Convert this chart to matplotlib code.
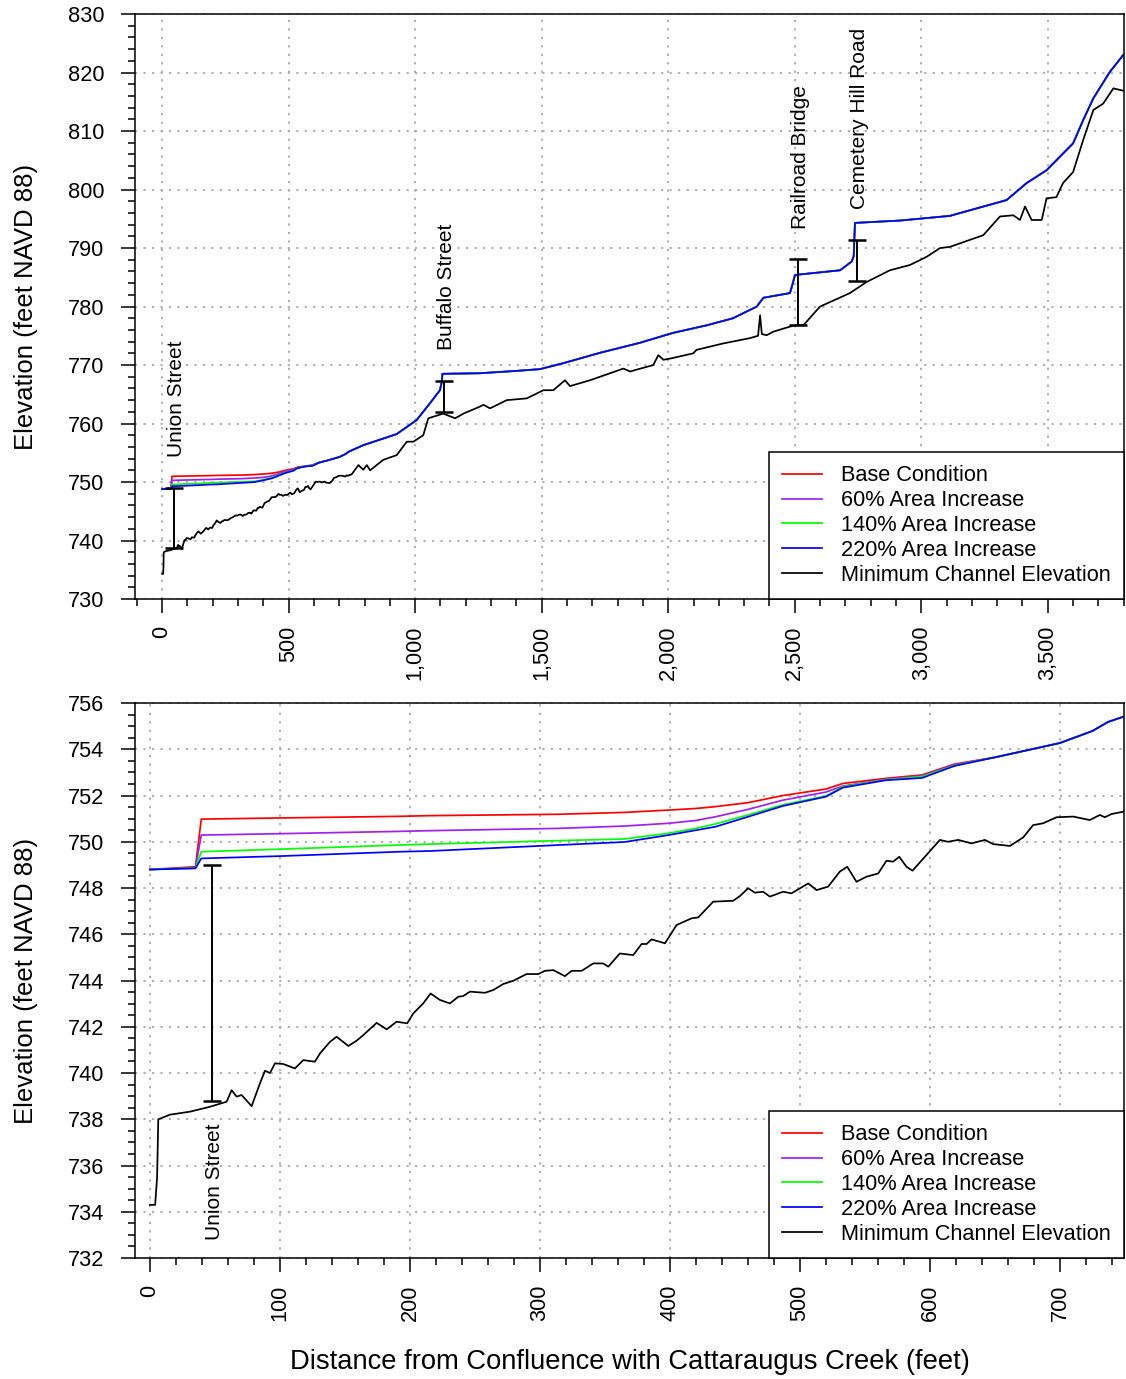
import matplotlib
matplotlib.use("Agg")
import matplotlib.pyplot as plt
from matplotlib.ticker import MultipleLocator, FuncFormatter

plt.rcParams['font.family'] = ['Liberation Sans', 'DejaVu Sans']

# water surface profiles, downstream part where the scenarios differ (feet)
ws_down_x = [0, 35, 39.5, 100, 192, 215, 315, 365, 399, 420, 435, 460, 487, 520, 533, 566, 594, 619]
base_down = [748.80, 748.92, 750.98, 751.03, 751.10, 751.13, 751.19, 751.27, 751.37, 751.44, 751.52,
             751.69, 752.00, 752.28, 752.52, 752.74, 752.89, 753.36]
p60_down = [748.80, 748.88, 750.29, 750.35, 750.45, 750.48, 750.58, 750.68, 750.80, 750.92, 751.08,
            751.40, 751.80, 752.15, 752.41, 752.70, 752.85, 753.33]
p140_down = [748.80, 748.86, 749.57, 749.68, 749.86, 749.90, 750.05, 750.12, 750.37, 750.58, 750.77,
             751.16, 751.60, 751.98, 752.38, 752.68, 752.82, 753.30]
p220_down = [748.80, 748.85, 749.28, 749.38, 749.57, 749.60, 749.86, 749.99, 750.29, 750.50, 750.65,
             751.08, 751.55, 751.95, 752.34, 752.66, 752.76, 753.28]

# upstream part, all scenarios coincide
ws_up_x = [650, 700, 725, 737, 749, 795, 927, 1006, 1059, 1098, 1105, 1108, 1256, 1400, 1493, 1584,
           1731, 1888, 2019, 2153, 2256, 2350, 2376, 2481, 2488, 2501, 2679, 2725, 2733, 2738, 2916,
           3113, 3179, 3337, 3416, 3495, 3600, 3640, 3680, 3745, 3798]
ws_up = [753.65, 754.27, 754.79, 755.18, 755.41, 756.3, 758.2, 760.6, 763.5, 765.7, 767.1, 768.5,
         768.6, 769.0, 769.3, 770.3, 772.1, 773.8, 775.5, 776.8, 778.0, 780.0, 781.5, 782.3, 783.3,
         785.4, 786.2, 787.7, 788.6, 794.3, 794.7, 795.5, 796.3, 798.2, 801.1, 803.3, 807.9, 811.9,
         815.6, 820.1, 823.0]

# minimum channel elevation
chan_x = [0, 4, 5.5, 6.4, 15.4, 30.8, 46, 59, 62.8, 66.7, 70.5, 78.2, 84.6, 88.5, 92.3, 96.2, 102.6,
          111.5, 118, 126.9, 130.8, 138.5, 143.6, 152.6, 159, 164.1, 174.4, 182.1, 189.7, 197.9, 202.6,
          210.2, 215.9, 223.1, 230.8, 237.2, 241, 246.2, 257.7, 264.1, 271.8, 279.5, 289.7, 298.7,
          303.8, 310.3, 319.2, 324.4, 332.1, 341, 348.7, 352.6, 361.5, 371.8, 378.2, 382.1, 385.9,
          396.2, 405.1, 416.7, 421.8, 433.3, 448.7, 453.8, 460.2, 465.3, 471.7, 476.9, 487.1, 493.5,
          506.4, 512.8, 521.7, 530.7, 536.4, 543.5, 551.2, 560.2, 566.6, 571.7, 576.4, 582, 586.6,
          597.4, 607.7, 613.9, 621.8, 632, 642.3, 648.7, 661.5, 671.8, 679.4, 687.1, 697.4, 710.2,
          723, 730.7, 734.6, 739.7, 748.7, 776, 795, 809, 822, 874, 927, 967, 993, 1032, 1052, 1111,
          1158, 1191, 1256, 1270, 1296, 1362, 1441, 1507, 1546, 1592, 1612, 1691, 1823, 1849, 1941,
          1961, 1981, 2007, 2099, 2112, 2218, 2323, 2355, 2363, 2370, 2389, 2415, 2468, 2500, 2534,
          2600, 2718, 2784, 2876, 2955, 3021, 3074, 3113, 3245, 3311, 3364, 3390, 3410, 3436, 3476,
          3495, 3534, 3560, 3600, 3640, 3680, 3719, 3759, 3798]
chan_z = [734.3, 734.3, 735.5, 738.0, 738.2, 738.33, 738.54, 738.76, 739.26, 738.98, 739.05, 738.57,
          739.55, 740.1, 740.0, 740.42, 740.39, 740.2, 740.56, 740.49, 740.85, 741.35, 741.57, 741.17,
          741.4, 741.64, 742.17, 741.89, 742.22, 742.15, 742.58, 743.01, 743.44, 743.16, 743.01,
          743.30, 743.33, 743.52, 743.47, 743.59, 743.85, 743.99, 744.28, 744.28, 744.42, 744.45,
          744.19, 744.42, 744.42, 744.74, 744.74, 744.60, 745.17, 745.10, 745.58, 745.58, 745.78,
          745.61, 746.40, 746.69, 746.73, 747.41, 747.45, 747.65, 747.99, 747.80, 747.84, 747.63,
          747.84, 747.77, 748.20, 747.91, 748.06, 748.71, 748.92, 748.27, 748.49, 748.63, 749.18,
          749.14, 749.35, 748.92, 748.75, 749.43, 750.08, 750.00, 750.08, 749.93, 750.08, 749.90,
          749.82, 750.19, 750.72, 750.80, 751.06, 751.09, 750.94, 751.16, 751.06, 751.20, 751.30,
          752.9, 752.1, 752.9, 752.0, 753.8, 754.6, 756.9, 756.9, 758.0, 760.9, 761.7, 760.9, 761.7,
          762.9, 763.2, 762.6, 764.0, 764.3, 765.7, 765.7, 767.4, 766.4, 767.4, 769.4, 768.9, 770.0,
          771.7, 770.9, 771.1, 772.0, 772.6, 773.7, 774.6, 775.0, 778.5, 775.3, 775.1, 775.7, 776.4,
          776.8, 776.8, 780.0, 782.3, 784.2, 786.2, 787.1, 788.5, 790.0, 790.2, 792.2, 795.4, 795.6,
          794.8, 797.1, 794.8, 794.8, 798.5, 798.7, 801.1, 803.0, 808.5, 813.6, 814.7, 817.3, 816.9]

labels = ['Base Condition', '60% Area Increase', '140% Area Increase', '220% Area Increase',
          'Minimum Channel Elevation']
colors = ['#FF0000', '#A020F0', '#00FF00', '#0000FF', 'black']

bridge_names = ['Union Street', 'Buffalo Street', 'Railroad Bridge', 'Cemetery Hill Road']
bridge_x = [48, 1114, 2512, 2745]
bridge_low = [738.8, 761.9, 776.8, 784.4]
bridge_high = [749.0, 767.3, 788.1, 791.4]

ws_x = ws_down_x + ws_up_x
profiles = [base_down + ws_up, p60_down + ws_up, p140_down + ws_up, p220_down + ws_up]

fig = plt.figure(figsize=(11.26, 13.79), dpi=100)
ax1 = fig.add_axes([0.1199, 0.5656, 0.8783, 0.4242])
ax2 = fig.add_axes([0.1199, 0.0877, 0.8783, 0.4025])

# panel settings: xlim, ylim, major/minor ticks
panels = [
    (ax1, (-107, 3801), (730, 830), 500, 100, 10, 2),
    (ax2, (-11.5, 749.3), (732, 756), 100, 20, 2, 0.5),
]

for ax, xl, yl, xmaj, xmin_, ymaj, ymin_ in panels:
    for prof, col, lab in zip(profiles, colors[:4], labels[:4]):
        ax.plot(ws_x, prof, color=col, lw=1.25, label=lab)
    ax.plot(chan_x, chan_z, color='black', lw=1.25, label=labels[4])

    ax.errorbar(bridge_x, bridge_low,
                yerr=[[0] * len(bridge_x), [h - l for h, l in zip(bridge_high, bridge_low)]],
                fmt='none', ecolor='black', elinewidth=1.4, capsize=6.5, capthick=1.8, zorder=4)

    ax.set_xlim(*xl)
    ax.set_ylim(*yl)
    ax.xaxis.set_major_locator(MultipleLocator(xmaj))
    ax.xaxis.set_minor_locator(MultipleLocator(xmin_))
    ax.yaxis.set_major_locator(MultipleLocator(ymaj))
    ax.yaxis.set_minor_locator(MultipleLocator(ymin_))
    ax.xaxis.set_major_formatter(FuncFormatter(lambda v, p: '{:,.0f}'.format(v)))
    ax.yaxis.set_major_formatter(FuncFormatter(lambda v, p: '{:.0f}'.format(v)))
    ax.tick_params(which='major', direction='out', length=10, width=1.1, labelsize=15.7)
    ax.tick_params(which='minor', direction='out', length=4.7, width=1.1)
    ax.tick_params(axis='x', which='major', labelrotation=90, pad=9)
    ax.tick_params(axis='y', which='major', pad=12)
    ax.grid(True, which='major', color='#a8a8a8', linestyle=(0, (1.2, 3.5)), linewidth=1.3)
    ax.set_axisbelow(True)
    for sp in ax.spines.values():
        sp.set_linewidth(1.1)
    ax.set_ylabel('Elevation (feet NAVD 88)', fontsize=18.5)
    ax.yaxis.set_label_coords(-0.098, 0.5)

    leg = ax.legend(loc='lower right', bbox_to_anchor=(1, 0), borderaxespad=0, fontsize=15.7,
                    frameon=True, fancybox=False, framealpha=1, edgecolor='black',
                    handlelength=1.8, handletextpad=0.9, labelspacing=0.18, borderpad=0.6)
    leg.get_frame().set_linewidth(1.1)
    for ln in leg.get_lines():
        ln.set_linewidth(1.25)

# bridge names
for name, bx, bh in zip(bridge_names, bridge_x, bridge_high):
    ax1.text(bx + 10, bh + 5.2, name, rotation=90, ha='center', va='bottom', fontsize=15)
ax2.text(bridge_x[0] + 1.5, bridge_low[0] - 1.0, bridge_names[0], rotation=90, ha='center',
         va='top', fontsize=15)

ax2.set_xlabel('Distance from Confluence with Cattaraugus Creek (feet)', fontsize=19.7)
ax2.xaxis.set_label_coords(0.5, -0.163)

fig.savefig('out.png', dpi=100)
